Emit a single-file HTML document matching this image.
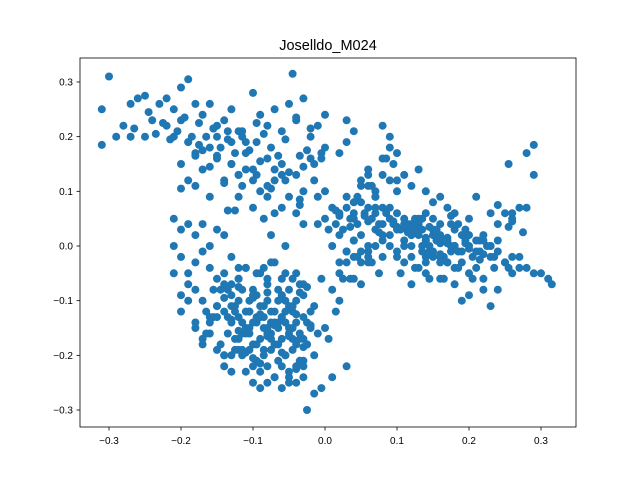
<!DOCTYPE html>
<html><head><meta charset="utf-8">
<style>
html,body{margin:0;padding:0;background:#fff;}
svg{display:block;font-family:"Liberation Sans","DejaVu Sans",sans-serif;}
</style></head>
<body>
<svg id="chart" width="640" height="480">
<rect width="640" height="480" fill="#fff"/>
<text x="328" y="50" text-anchor="middle" font-size="14.5">Joselldo_M024</text>
<g id="points"></g>
<g id="axes"></g>
</svg>
<script>
const xTicks=[-0.3,-0.2,-0.1,0.0,0.1,0.2,0.3];
const yTicks=[-0.3,-0.2,-0.1,0.0,0.1,0.2,0.3];
const xTickLabels=["−0.3","−0.2","−0.1","0.0","0.1","0.2","0.3"];
const yTickLabels=["−0.3","−0.2","−0.1","0.0","0.1","0.2","0.3"];
const xsA=[
-0.31,-0.30,-0.31,-0.29,-0.28,-0.27,-0.26,-0.25,-0.27,-0.25,-0.24,-0.23,-0.22,-0.21,-0.20,-0.19,-0.20,-0.22,-0.21,-0.19,-0.18,-0.17,-0.16,-0.15,-0.14,-0.13,-0.12,-0.11,-0.10,-0.09,-0.08,-0.07,-0.06,-0.05,-0.045,-0.04,-0.03,-0.02,-0.01,0.0,
-0.265,-0.245,-0.225,-0.205,-0.185,-0.175,-0.165,-0.155,-0.145,-0.135,-0.125,-0.115,-0.105,-0.095,-0.085,-0.075,-0.065,-0.055,-0.035,-0.025,-0.015,-0.005,
-0.20,-0.19,-0.18,-0.17,-0.16,-0.15,-0.14,-0.13,-0.12,-0.11,-0.10,-0.09,-0.08,-0.07,-0.06,-0.05,-0.04,-0.03,-0.02,-0.01,
-0.20,-0.18,-0.16,-0.15,-0.13,-0.12,-0.10,-0.08,-0.07,-0.06,-0.04,-0.03,-0.115,-0.095,-0.075,-0.055,-0.035,-0.015,-0.135,-0.085,
-0.21,-0.20,-0.19,-0.21,-0.18,-0.20,-0.17,-0.19,-0.16,-0.21,-0.18,-0.15,-0.20,-0.17,-0.19,-0.14,-0.16,-0.18,-0.15,-0.17,-0.20,-0.13,-0.16,-0.14,-0.18,-0.12,-0.15,-0.17,-0.13,-0.14,
-0.14,-0.13,-0.12,-0.11,-0.10,-0.09,-0.08,-0.07,-0.06,-0.05,-0.04,-0.03,-0.13,-0.12,-0.11,-0.10,-0.09,-0.08,-0.07,-0.06,-0.05,-0.04,-0.03,-0.02,
-0.13,-0.12,-0.11,-0.10,-0.09,-0.08,-0.07,-0.06,-0.05,-0.04,-0.03,-0.12,-0.11,-0.10,-0.09,-0.08,-0.07,-0.06,-0.05,-0.04,-0.03,-0.02,-0.01,0.0,
-0.125,-0.115,-0.105,-0.095,-0.085,-0.075,-0.065,-0.055,-0.045,-0.035,-0.025,-0.015,-0.115,-0.105,-0.095,-0.085,-0.075,-0.065,-0.055,-0.045,-0.035,
-0.10,-0.09,-0.08,-0.07,-0.06,-0.05,-0.04,-0.03,-0.09,-0.08,-0.07,-0.06,-0.05,-0.04,-0.03,-0.025,-0.015,-0.005,0.01,0.03,-0.11,-0.13,-0.12,-0.14,
-0.16,-0.15,-0.17,-0.18,-0.19,-0.14,-0.135,-0.125,-0.145,-0.155,-0.165,-0.105,-0.095,-0.085,-0.075,-0.065,-0.055,-0.045,-0.035,-0.025,-0.015,-0.005,0.005,0.015,
0.0,0.01,0.02,0.03,0.04,0.05,0.06,0.07,0.08,0.09,0.10,0.11,0.12,0.13,0.005,0.015,0.025,0.035,0.045,0.055,0.065,0.075,0.085,0.095,0.105,0.115,0.125,
0.01,0.02,0.03,0.04,0.05,0.06,0.07,0.08,0.09,0.10,0.11,0.12,0.0,-0.01,0.02,0.04,0.06,0.08,0.10,0.12,0.14,0.03,0.05,0.07,0.09,
0.13,0.14,0.15,0.16,0.17,0.18,0.19,0.20,0.21,0.22,0.23,0.24,0.135,0.145,0.155,0.165,0.175,0.185,0.195,0.205,0.215,0.225,0.14,0.15,0.16,0.17,0.18,0.19,0.20,0.13,0.15,0.17,
0.19,0.21,0.23,0.25,0.26,0.27,0.28,0.29,0.30,0.31,0.315,0.22,0.24,0.26,0.28,0.25,0.27,0.23,0.20,0.18,0.16,0.14,0.12,0.10,0.11,0.13,0.15,0.17,0.29,0.255,
0.02,0.03,0.04,0.05,0.06,0.08,0.09,0.10,0.11,0.12,0.03,0.05,0.07,0.09,0.04,0.06,0.08,0.095,0.085,0.065,0.045,0.035,0.025,
0.12,0.14,0.16,0.18,0.20,0.22,0.24,0.26,0.115,0.135,0.155,0.175,0.195,0.215,0.235,0.255,0.075,0.105,0.125,0.145,0.165,0.185,0.205,
0.01,0.02,0.03,0.04,0.06,0.07,0.08,0.09,0.03,0.05,0.06,0.02,0.0,-0.005,0.07,0.10,0.13,0.11,0.16,0.21,0.19,0.23
];
const ysA=[
0.25,0.31,0.185,0.2,0.22,0.26,0.27,0.275,0.2,0.2,0.23,0.26,0.27,0.25,0.29,0.305,0.23,0.22,0.2,0.19,0.26,0.24,0.26,0.22,0.23,0.25,0.21,0.19,0.28,0.24,0.22,0.25,0.21,0.26,0.315,0.23,0.27,0.2,0.22,0.18,
0.215,0.245,0.225,0.21,0.2,0.185,0.2,0.215,0.18,0.21,0.17,0.2,0.175,0.19,0.205,0.18,0.165,0.195,0.165,0.175,0.15,0.17,
0.15,0.12,0.17,0.14,0.18,0.16,0.12,0.15,0.13,0.17,0.14,0.1,0.16,0.12,0.15,0.09,0.13,0.1,0.16,0.09,
0.105,0.11,0.09,0.2,0.19,0.09,0.07,0.09,0.06,0.07,0.06,0.04,0.11,0.13,0.105,0.12,0.085,0.12,0.065,0.05,
0.05,0.03,0.04,0.0,0.02,-0.02,0.04,-0.05,0.0,-0.05,-0.03,0.03,-0.09,-0.01,-0.07,0.02,-0.04,-0.08,-0.06,-0.1,-0.12,-0.02,-0.13,-0.07,-0.15,-0.04,-0.11,-0.17,-0.09,-0.12,
-0.05,-0.07,-0.06,-0.04,-0.08,-0.05,-0.07,-0.03,-0.06,-0.08,-0.05,-0.07,-0.11,-0.1,-0.12,-0.09,-0.11,-0.1,-0.12,-0.09,-0.11,-0.1,-0.09,-0.12,
-0.14,-0.13,-0.15,-0.14,-0.13,-0.15,-0.14,-0.13,-0.15,-0.14,-0.13,-0.17,-0.16,-0.18,-0.17,-0.16,-0.18,-0.17,-0.16,-0.18,-0.17,-0.15,-0.16,-0.15,
-0.19,-0.2,-0.19,-0.21,-0.2,-0.19,-0.21,-0.2,-0.19,-0.21,-0.18,-0.2,-0.16,-0.15,-0.14,-0.15,-0.14,-0.15,-0.14,-0.15,-0.16,
-0.22,-0.23,-0.22,-0.24,-0.22,-0.23,-0.22,-0.21,-0.26,-0.25,-0.24,-0.26,-0.24,-0.25,-0.22,-0.3,-0.27,-0.26,-0.24,-0.22,-0.23,-0.23,-0.19,-0.2,
-0.16,-0.13,-0.18,-0.14,-0.1,-0.2,-0.08,-0.11,-0.18,-0.08,-0.12,-0.12,-0.09,-0.13,-0.16,-0.08,-0.1,-0.12,-0.07,-0.14,-0.11,-0.06,-0.17,-0.12,
0.05,0.07,0.06,0.07,0.06,0.08,0.07,0.06,0.07,0.05,0.06,0.05,0.04,0.05,0.03,0.04,0.03,0.05,0.04,0.06,0.05,0.04,0.06,0.04,0.03,0.04,0.05,
0.0,0.02,-0.01,0.01,0.02,0.0,0.03,0.01,0.02,0.03,0.01,0.02,0.1,0.04,-0.03,-0.02,-0.03,-0.02,-0.01,0.0,-0.02,0.09,0.11,0.1,0.12,
0.02,0.01,0.03,0.02,0.01,0.03,0.02,0.0,0.01,0.02,0.0,0.01,0.0,-0.01,0.01,-0.02,0.0,-0.01,0.01,-0.02,-0.01,0.0,-0.03,-0.01,-0.02,-0.03,-0.04,-0.03,-0.05,-0.04,
-0.02,-0.03,-0.01,-0.04,-0.02,-0.03,-0.05,-0.02,-0.04,-0.05,-0.05,-0.06,-0.07,-0.06,-0.08,0.05,0.07,0.06,0.07,0.06,0.05,0.06,0.09,0.1,0.11,0.12,0.13,0.14,0.08,0.07,
0.13,0.15,0.17,0.19,0.21,0.12,0.14,0.16,0.18,0.1,0.0,-0.02,-0.01,-0.03,0.09,0.07,0.08,0.11,0.13,0.15,0.16,0.11,0.09,
-0.06,-0.06,-0.07,-0.05,-0.06,-0.07,-0.09,-0.08,0.04,0.06,0.03,0.05,0.02,0.04,0.03,0.01,-0.04,-0.04,-0.05,-0.05,-0.04,-0.06,-0.06,
-0.04,-0.06,-0.08,-0.05,-0.03,-0.06,0.13,0.09,0.22,0.2,0.23,-0.07,-0.02,-0.1,0.24,0.16,0.07,0.17,0.04,0.04,-0.03,0.09
];
const xsB=[
-0.135,-0.125,-0.115,-0.105,-0.095,-0.085,-0.075,-0.065,-0.055,-0.045,-0.035,-0.025,-0.135,-0.125,-0.115,-0.105,-0.095,-0.085,-0.075,-0.065,-0.055,-0.045,-0.035,-0.025,
-0.14,-0.12,-0.10,-0.08,-0.06,-0.04,-0.02,-0.13,-0.11,-0.09,-0.07,-0.05,-0.03,-0.12,-0.10,-0.08,-0.06,-0.04,-0.11,-0.09,-0.07,-0.05,-0.03,-0.10,-0.08,-0.06,
-0.15,-0.145,-0.155,-0.16,-0.165,-0.15,-0.14,-0.13,-0.12,-0.11,-0.095,-0.085,-0.075,-0.065,-0.055,-0.045,-0.105,-0.115,-0.125,-0.035,
0.02,0.04,0.06,0.08,0.10,0.12,0.14,0.16,0.18,0.20,0.22,0.24,0.26,0.015,0.035,0.055,0.075,0.095,0.115,0.135,0.155,0.175,0.195,0.215,0.235,0.255,0.275,
0.13,0.14,0.15,0.16,0.17,0.18,0.125,0.135,0.145,0.155,0.165,0.175,0.185,0.14,0.15,0.16,0.17,0.145,0.155,0.165,0.2,0.21,0.22,0.23,0.24,0.25,0.26,0.27,0.28,0.29,
-0.19,-0.17,-0.15,-0.13,-0.11,-0.09,-0.07,-0.05,-0.03,-0.18,-0.16,-0.14,-0.12,-0.10,-0.08,-0.06,-0.04,-0.02,-0.235,-0.215,-0.195,-0.175,-0.155,-0.135,-0.115,-0.095,-0.075,-0.055,
0.04,0.05,0.06,0.07,0.08,0.09,0.1,0.11,0.045,0.065,0.085,0.105
];
const ysB=[
-0.1,-0.11,-0.13,-0.12,-0.14,-0.12,-0.13,-0.11,-0.12,-0.14,-0.12,-0.11,-0.17,-0.18,-0.16,-0.17,-0.19,-0.16,-0.18,-0.19,-0.17,-0.18,-0.2,-0.17,
-0.085,-0.075,-0.095,-0.075,-0.095,-0.085,-0.13,-0.125,-0.145,-0.135,-0.155,-0.125,-0.145,-0.165,-0.185,-0.155,-0.205,-0.165,-0.195,-0.225,-0.195,-0.215,-0.18,-0.25,-0.24,-0.25,
-0.06,-0.09,-0.11,-0.08,-0.13,-0.14,-0.16,-0.19,-0.22,-0.2,-0.06,-0.04,-0.05,-0.04,-0.03,-0.1,-0.05,-0.06,-0.1,-0.08,
0.065,0.075,0.055,0.05,0.045,0.04,0.035,0.02,0.015,0.005,0.0,-0.005,-0.015,0.075,0.045,0.065,0.035,0.055,0.025,0.045,0.025,0.03,0.01,-0.01,0.005,-0.025,-0.02,
0.035,0.025,0.045,0.01,0.02,0.04,0.015,0.0,0.03,-0.01,0.0,0.02,0.01,0.055,0.04,0.06,0.05,-0.015,0.005,0.035,0.03,0.01,0.02,-0.01,0.01,0.0,-0.01,-0.03,-0.02,-0.04,
0.17,0.185,0.19,0.175,0.165,0.15,0.14,0.155,0.14,0.135,0.145,0.165,0.145,0.115,0.13,0.12,0.11,0.13,0.235,0.215,0.205,0.195,0.235,0.225,0.215,0.195,0.21,0.225,
0.02,0.0,0.01,-0.01,-0.01,0.0,0.02,0.0,-0.02,-0.03,-0.02,-0.03
];
const xs=xsA.concat(xsB);
const ys=ysA.concat(ysB);
const NS='http://www.w3.org/2000/svg';
const L=80,R=576,T=58,B=427;
function sx(v){return 325+v*720;}
function sy(v){return 246-v*546.7;}
const pg=document.getElementById('points');
for(let i=0;i<xs.length&&i<ys.length;i++){
  const c=document.createElementNS(NS,'circle');
  c.setAttribute('cx',sx(xs[i]).toFixed(1));
  c.setAttribute('cy',sy(ys[i]).toFixed(1));
  c.setAttribute('r','4');
  c.setAttribute('fill','#1f77b4');
  
  
  pg.appendChild(c);
}
const ax=document.getElementById('axes');
const fr=document.createElementNS(NS,'rect');
fr.setAttribute('x',L);fr.setAttribute('y',T);fr.setAttribute('width',R-L);fr.setAttribute('height',B-T);
fr.setAttribute('fill','none');fr.setAttribute('stroke','#000');fr.setAttribute('stroke-width','0.8');


ax.appendChild(fr);
xTicks.forEach((v,i)=>{
  const x=sx(v);
  const l=document.createElementNS(NS,'line');
  l.setAttribute('x1',x);l.setAttribute('x2',x);l.setAttribute('y1',B);l.setAttribute('y2',B+3.5);
  l.setAttribute('stroke','#000');l.setAttribute('stroke-width','0.8');
  
  
  ax.appendChild(l);
  const t=document.createElementNS(NS,'text');
  t.setAttribute('x',x);t.setAttribute('y',B+17);t.setAttribute('text-anchor','middle');t.setAttribute('font-size','10');
  t.textContent=xTickLabels[i];
  
  
  ax.appendChild(t);
});
yTicks.forEach((v,i)=>{
  const y=sy(v);
  const l=document.createElementNS(NS,'line');
  l.setAttribute('x1',L-3.5);l.setAttribute('x2',L);l.setAttribute('y1',y);l.setAttribute('y2',y);
  l.setAttribute('stroke','#000');l.setAttribute('stroke-width','0.8');
  
  
  ax.appendChild(l);
  const t=document.createElementNS(NS,'text');
  t.setAttribute('x',L-7);t.setAttribute('y',y+3.5);t.setAttribute('text-anchor','end');t.setAttribute('font-size','10');
  t.textContent=yTickLabels[i];
  
  
  ax.appendChild(t);
});
</script>
</body></html>
